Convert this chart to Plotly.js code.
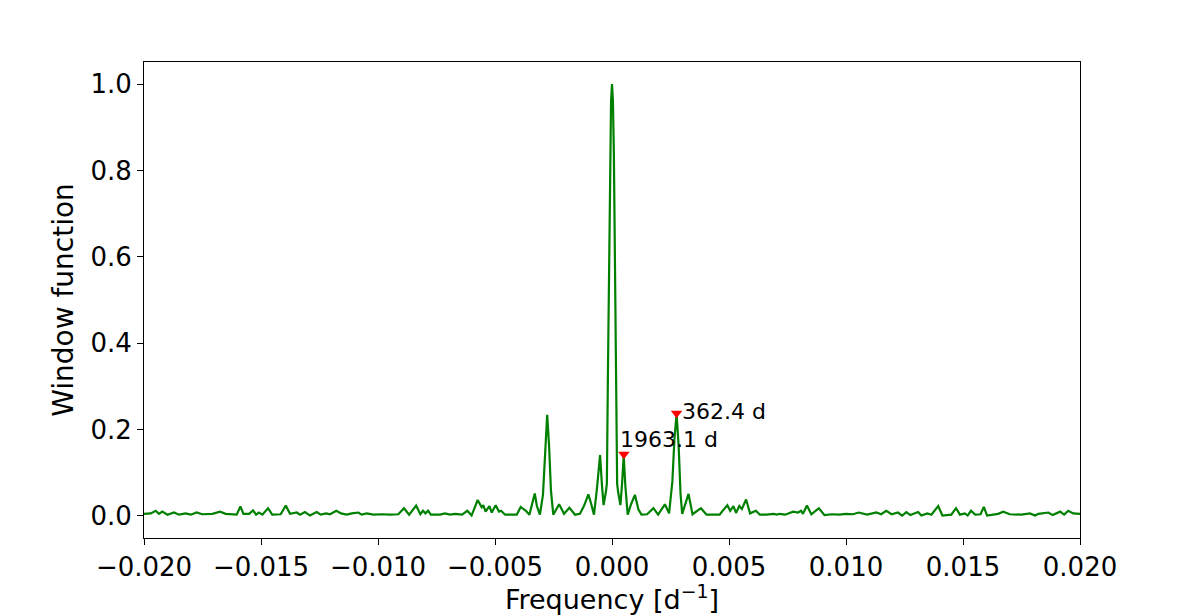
<!DOCTYPE html>
<html>
<head>
<meta charset="utf-8">
<script src="https://cdn.plot.ly/plotly-3.0.1.min.js"></script>
<style>html,body{margin:0;padding:0;background:#fff;}#chart{width:1200px;height:615px;}</style>
</head>
<body>
<div id="chart"></div>
<script>
// Frequency [d^-1] and window function values
const frequency = [
-0.02000,-0.01971,-0.01950,-0.01936,-0.01922,-0.01900,-0.01872,-0.01850,-0.01822,-0.01800,
-0.01775,-0.01751,-0.01708,-0.01675,-0.01651,-0.01604,-0.01588,-0.01575,-0.01551,-0.01534,
-0.01521,-0.01509,-0.01494,-0.01470,-0.01452,-0.01416,-0.01394,-0.01376,-0.01347,-0.01333,
-0.01312,-0.01291,-0.01262,-0.01245,-0.01222,-0.01205,-0.01178,-0.01158,-0.01134,-0.01112,
-0.01084,-0.01070,-0.01048,-0.01020,-0.00984,-0.00949,-0.00913,-0.00889,-0.00867,-0.00837,
-0.00819,-0.00808,-0.00797,-0.00786,-0.00774,-0.00749,-0.00735,-0.00714,-0.00692,-0.00671,
-0.00641,-0.00618,-0.00600,-0.00574,-0.00557,-0.00550,-0.00540,-0.00524,-0.00514,-0.00497,
-0.00483,-0.00474,-0.00457,-0.00407,-0.00390,-0.00376,-0.00368,-0.00353,-0.00330,-0.00321,
-0.00308,-0.00295,-0.00284,-0.00277,-0.00269,-0.00261,-0.00251,-0.00226,-0.00205,-0.00182,
-0.00158,-0.00137,-0.00120,-0.00101,-0.00090,-0.00077,-0.00065,-0.00051,-0.00043,-0.00036,
-0.00026,-0.00022,-0.00017,-0.00013,-0.00008,-0.00004,0.00000,0.00004,0.00008,0.00013,
0.00017,0.00022,0.00026,0.00036,0.00043,0.00050,0.00057,0.00067,0.00080,0.00098,
0.00113,0.00126,0.00150,0.00177,0.00197,0.00226,0.00244,0.00258,0.00267,0.00276,
0.00285,0.00293,0.00300,0.00327,0.00344,0.00362,0.00380,0.00404,0.00460,0.00473,
0.00493,0.00505,0.00519,0.00530,0.00544,0.00555,0.00573,0.00590,0.00615,0.00632,
0.00660,0.00690,0.00705,0.00715,0.00740,0.00774,0.00795,0.00808,0.00816,0.00833,
0.00852,0.00884,0.00908,0.00940,0.00970,0.01000,0.01030,0.01054,0.01075,0.01090,
0.01130,0.01150,0.01172,0.01195,0.01222,0.01240,0.01258,0.01275,0.01308,0.01322,
0.01348,0.01365,0.01394,0.01412,0.01450,0.01470,0.01487,0.01508,0.01520,0.01534,
0.01552,0.01575,0.01589,0.01603,0.01650,0.01672,0.01700,0.01750,0.01786,0.01808,
0.01822,0.01865,0.01883,0.01915,0.01932,0.01950,0.01971,0.02000
];
const windowValue = [
0.005,0.006,0.012,0.005,0.010,0.003,0.008,0.003,0.006,0.003,
0.008,0.004,0.005,0.010,0.005,0.003,0.022,0.005,0.005,0.013,
0.003,0.008,0.003,0.018,0.003,0.004,0.024,0.005,0.008,0.003,
0.009,0.001,0.009,0.003,0.006,0.004,0.012,0.006,0.003,0.006,
0.008,0.003,0.006,0.003,0.004,0.003,0.004,0.018,0.003,0.024,
0.004,0.012,0.006,0.012,0.003,0.003,0.003,0.006,0.003,0.005,
0.003,0.012,0.001,0.037,0.020,0.025,0.010,0.023,0.008,0.025,
0.010,0.012,0.003,0.003,0.021,0.015,0.012,0.003,0.052,0.023,
0.003,0.049,0.176,0.234,0.164,0.060,0.003,0.027,0.005,0.019,
0.003,0.005,0.023,0.050,0.030,0.003,0.060,0.141,0.072,0.025,
0.056,0.075,0.350,0.590,0.840,0.960,1.000,0.960,0.840,0.590,
0.350,0.075,0.056,0.025,0.075,0.140,0.070,0.003,0.025,0.049,
0.015,0.003,0.004,0.018,0.003,0.027,0.006,0.080,0.180,0.236,
0.160,0.050,0.005,0.051,0.004,0.012,0.018,0.003,0.003,0.012,
0.025,0.012,0.023,0.007,0.023,0.016,0.038,0.006,0.012,0.003,
0.003,0.005,0.003,0.005,0.003,0.010,0.008,0.012,0.005,0.024,
0.004,0.018,0.002,0.004,0.003,0.005,0.004,0.008,0.005,0.003,
0.008,0.004,0.012,0.004,0.008,0.001,0.009,0.002,0.009,0.001,
0.006,0.003,0.023,0.001,0.003,0.018,0.003,0.006,0.001,0.012,
0.003,0.004,0.021,0.001,0.005,0.010,0.004,0.003,0.006,0.001,
0.005,0.008,0.002,0.010,0.003,0.012,0.006,0.005
];

// Marked peaks
const peakFreq = [0.000509, 0.002759];
const peakValue = [0.143, 0.238];
const peakLabels = ["1963.1 d", "362.4 d"];
const labelFreq = [0.00024, 0.00290];
const labelValue = [0.176, 0.243];

const xTickVals = [-0.02, -0.015, -0.01, -0.005, 0, 0.005, 0.01, 0.015, 0.02];
const xTickText = ["\u22120.020","\u22120.015","\u22120.010","\u22120.005","0.000","0.005","0.010","0.015","0.020"];
const yTickVals = [0, 0.2, 0.4, 0.6, 0.8, 1.0];
const yTickText = ["0.0","0.2","0.4","0.6","0.8","1.0"];

const font = "DejaVu Sans, sans-serif";

const traces = [
  {x: frequency, y: windowValue, type: "scatter", mode: "lines",
   line: {color: "#008000", width: 2.2}, hoverinfo: "skip"},
  {x: peakFreq, y: peakValue, type: "scatter", mode: "markers",
   marker: {symbol: "triangle-down", color: "#ff0000", size: 10}}
];

const annotations = peakLabels.map((t, i) => ({
  x: labelFreq[i], y: labelValue[i], xref: "x", yref: "y", text: t,
  showarrow: false, xanchor: "left", yanchor: "middle",
  font: {family: font, size: 22, color: "#000"}
}));

const axisCommon = {
  showline: true, mirror: true, linecolor: "#000", linewidth: 1,
  ticks: "outside", ticklen: 6, tickwidth: 1, tickcolor: "#000",
  showgrid: false, zeroline: false
};

const layout = {
  width: 1200, height: 615,
  margin: {l: 144, r: 120, t: 62, b: 77},
  paper_bgcolor: "#fff", plot_bgcolor: "#fff",
  showlegend: false,
  font: {family: font, color: "#000"},
  xaxis: Object.assign({}, axisCommon, {
    range: [-0.02, 0.02], tickmode: "array", tickvals: xTickVals, ticktext: xTickText,
    tickfont: {family: font, size: 26, color: "#000"},
    title: {text: "Frequency [d<sup>\u22121</sup>]", font: {family: font, size: 27}, standoff: 5}
  }),
  yaxis: Object.assign({}, axisCommon, {
    range: [-0.051, 1.051], tickmode: "array", tickvals: yTickVals, ticktext: yTickText,
    tickfont: {family: font, size: 26, color: "#000"},
    title: {text: "Window function", font: {family: font, size: 28}, standoff: 8}
  }),
  annotations: annotations
};

Plotly.newPlot("chart", traces, layout, {displayModeBar: false, staticPlot: true});
</script>
</body>
</html>
